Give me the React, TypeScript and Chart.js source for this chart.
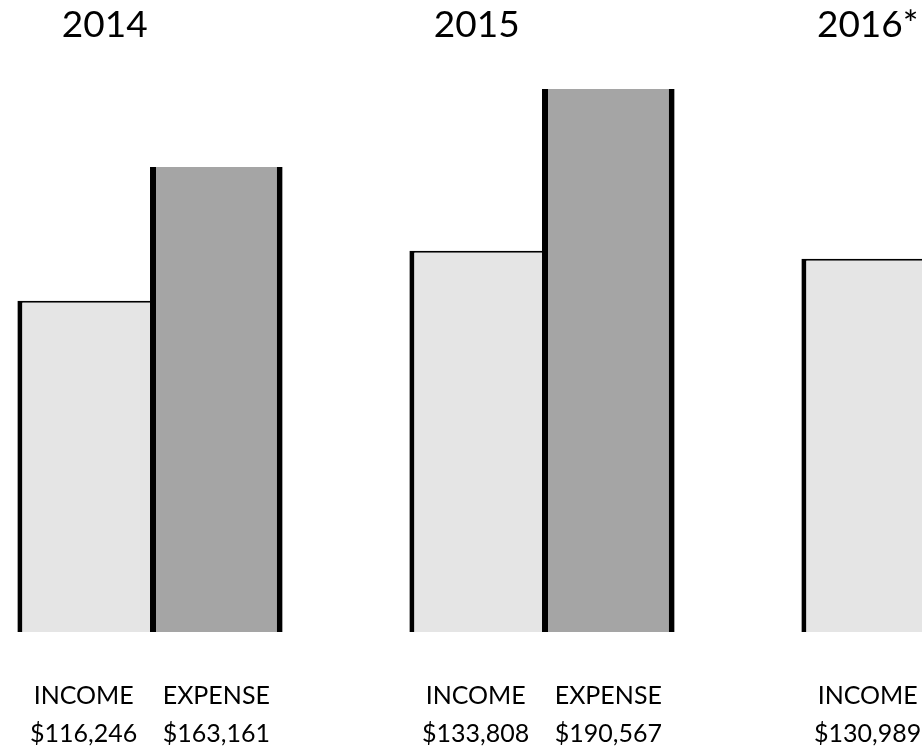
import React, { useEffect, useRef } from "react";
import { Chart, registerables } from "chart.js";

Chart.register(...registerables);

// ---- data ----
const YEARS = ["2014", "2015", "2016*"];
const SERIES = ["INCOME", "EXPENSE"];
const INCOME = [116246, 133808, 130989];
const EXPENSE: (number | null)[] = [163161, 190567, null];
const Y_MAX = 200000;

// ---- layout (not data) ----
const CANVAS_W = 1176;
const CANVAS_H = 750;
const CANVAS_LEFT = -46;
const TITLE_NUDGE = [21, 1, 0];
const FONT = "Lato, 'Open Sans', sans-serif";

const fmt = (v: number) => "$" + v.toLocaleString("en-US");

const labelsPlugin = {
  id: "groupLabels",
  afterDraw(chart: any) {
    const ctx = chart.ctx;
    ctx.save();
    ctx.fillStyle = "#000";
    ctx.textAlign = "center";
    ctx.textBaseline = "alphabetic";
    const incomeMeta = chart.getDatasetMeta(0);
    // year titles
    ctx.font = `37px ${FONT}`;
    YEARS.forEach((y, i) => {
      const bar = incomeMeta.data[i];
      if (!bar) return;
      ctx.fillText(y, bar.x + TITLE_NUDGE[i], 37);
    });
    // series + value labels
    const sets = [INCOME, EXPENSE];
    sets.forEach((arr, d) => {
      const meta = chart.getDatasetMeta(d);
      arr.forEach((v, i) => {
        if (v == null) return;
        const bar = meta.data[i];
        if (!bar) return;
        ctx.font = `25px ${FONT}`;
        ctx.fillText(SERIES[d], bar.x, 704);
        ctx.fillText(fmt(v), bar.x, 742);
      });
    });
    ctx.restore();
  },
};

export default function App() {
  const ref = useRef<HTMLCanvasElement | null>(null);

  useEffect(() => {
    if (!ref.current) return;
    const chart = new Chart(ref.current, {
      type: "bar",
      data: {
        labels: YEARS,
        datasets: [
          {
            label: SERIES[0],
            data: INCOME,
            backgroundColor: "#e5e5e5",
            borderColor: "#000000",
            borderWidth: { left: 5, top: 2, right: 0, bottom: 0 } as any,
            borderSkipped: false,
            barPercentage: 1,
            categoryPercentage: 0.6765,
          },
          {
            label: SERIES[1],
            data: EXPENSE,
            backgroundColor: "#a5a5a5",
            borderColor: "#000000",
            borderWidth: { left: 6, top: 0, right: 6, bottom: 0 } as any,
            borderSkipped: false,
            barPercentage: 1,
            categoryPercentage: 0.6765,
          },
        ],
      },
      options: {
        responsive: false,
        animation: false,
        devicePixelRatio: 1,
        layout: { padding: { top: 62, bottom: 118, left: 0, right: 0 } },
        scales: {
          x: { display: false },
          y: { display: false, min: 0, max: Y_MAX },
        },
        plugins: {
          legend: { display: false },
          tooltip: { enabled: false },
        },
      },
      plugins: [labelsPlugin],
    });
    return () => chart.destroy();
  }, []);

  return (
    <div
      style={{
        position: "fixed",
        left: 0,
        top: 0,
        width: 922,
        height: 750,
        overflow: "hidden",
        background: "#fff",
      }}
    >
      <canvas
        ref={ref}
        width={CANVAS_W}
        height={CANVAS_H}
        style={{
          position: "absolute",
          left: CANVAS_LEFT,
          top: 0,
          width: CANVAS_W,
          height: CANVAS_H,
        }}
      />
    </div>
  );
}
